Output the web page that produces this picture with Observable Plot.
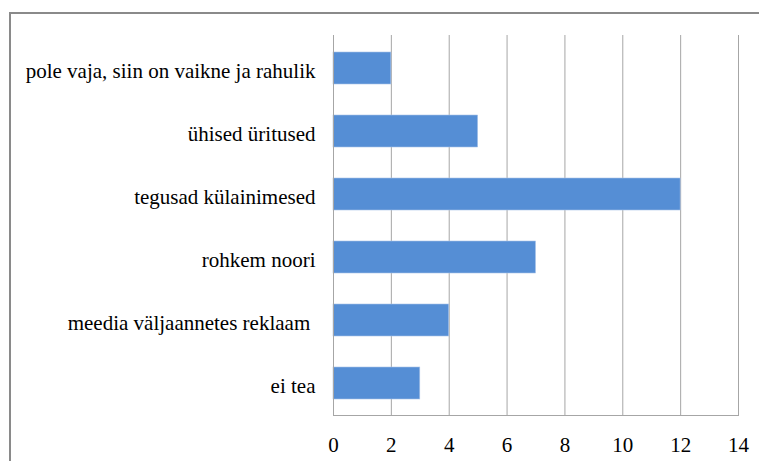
<!DOCTYPE html>
<html><head><meta charset="utf-8">
<script src="https://cdn.jsdelivr.net/npm/d3@7"></script>
<script src="https://cdn.jsdelivr.net/npm/@observablehq/plot@0.6"></script>
<style>
html,body{margin:0;padding:0;background:#fff;}
#wrap{position:relative;width:759px;height:461px;overflow:hidden;}
#border{position:absolute;left:9px;top:12px;width:800px;height:500px;border-left:2px solid #8a8a8a;border-top:2px solid #8a8a8a;box-sizing:border-box;}
#chart{position:absolute;left:0;top:0;}
</style></head>
<body><div id="wrap"><div id="border"></div><div id="chart"></div></div>
<script>
const categories = ["pole vaja, siin on vaikne ja rahulik","ühised üritused","tegusad külainimesed","rohkem noori","meedia väljaannetes reklaam ","ei tea"];
const values = [2,5,12,7,4,3];
const xTicks = [0,2,4,6,8,10,12,14];
const data = categories.map((c,i)=>({cat:c,val:values[i]}));
const FONT = "Liberation Serif";
const chart = Plot.plot({
  width:759, height:461,
  marginLeft:333, marginRight:21, marginTop:35, marginBottom:46,
  style:{fontFamily:FONT, fontSize:"21px", color:"#000", background:"transparent"},
  x:{domain:[0,14], label:null},
  y:{domain:categories, paddingInner:0.5, paddingOuter:0.25, label:null},
  marks:[
    Plot.ruleX(xTicks,{stroke:"#a6a6a6", strokeWidth:1}),
    Plot.frame({anchor:"bottom", stroke:"#a6a6a6"}),
    Plot.barX(data,{x:"val", y:"cat", fill:"#558ed5", stroke:"#a9c3e8", strokeWidth:0.6}),
    Plot.ruleX([0],{stroke:"#a6a6a6"}),
    Plot.axisX({ticks:xTicks, tickSize:0, tickPadding:22, tickFormat:d=>String(d), fontSize:21, fontFamily:FONT, label:null}),
    Plot.axisY({tickSize:0, tickPadding:18, dy:3, fontSize:21, fontFamily:FONT, label:null})
  ]
});
document.getElementById("chart").appendChild(chart);
</script>
</body></html>
